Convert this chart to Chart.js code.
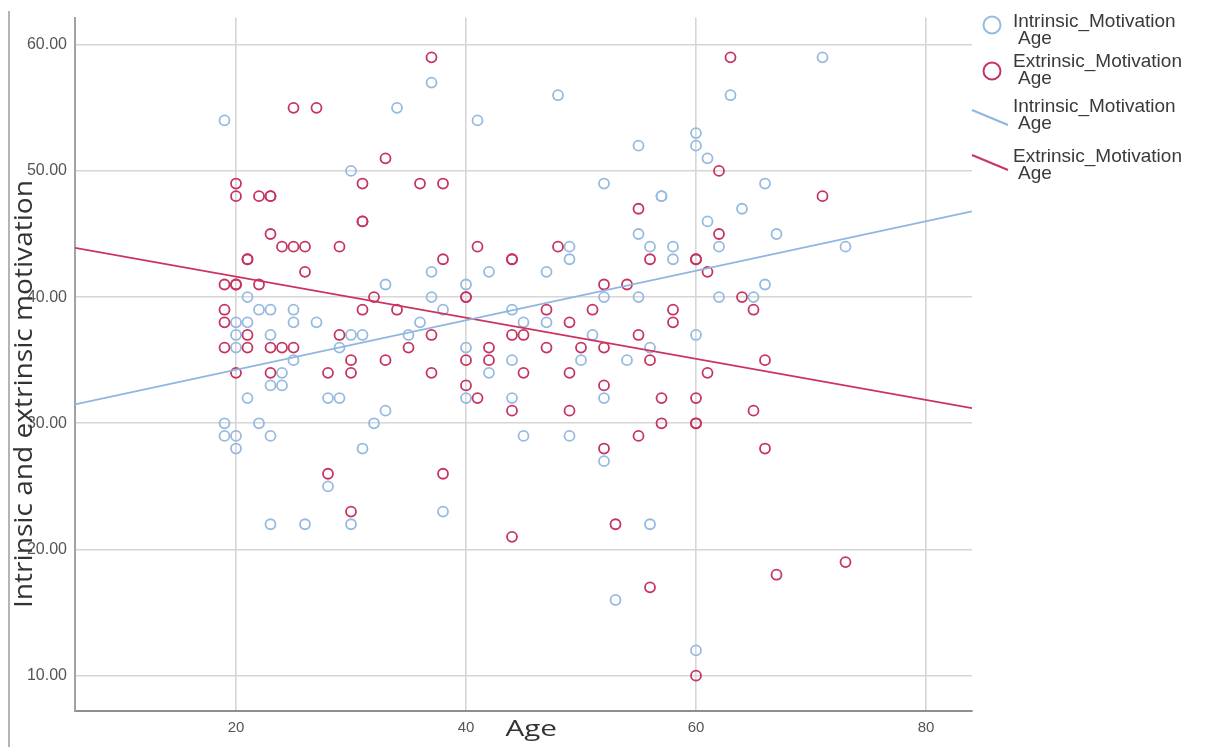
<!DOCTYPE html>
<html>
<head>
<meta charset="utf-8">
<script src="https://cdn.jsdelivr.net/npm/chart.js@4.4.0/dist/chart.umd.min.js"></script>
<style>
  body { margin: 0; background: #fff; }
  #wrap { position: relative; width: 1208px; height: 747px; overflow: hidden; }
  #chart { position: absolute; left: 0; top: 0; }
  .title { position: absolute; white-space: nowrap; font-family: "Open Sans", sans-serif; color: #333; line-height: 1; }
  .leg { position: absolute; left: 1013px; font-family: "Liberation Sans", Arial, sans-serif; font-size: 19px; line-height: 17px; color: #3a3a3a; white-space: nowrap; }
  .leg span { display: block; padding-left: 5px; }
  #marks { position: absolute; left: 0; top: 0; }
</style>
</head>
<body>
<div id="wrap">
  <canvas id="chart" width="1208" height="747"></canvas>
  <svg id="marks" width="1208" height="747"></svg>
  <div id="yTitle" class="title" style="font-size:26px">Intrinsic and extrinsic motivation</div>
  <div id="xTitle" class="title" style="font-size:21px">Age</div>
</div>
<script>
// Intrinsic motivation by age (blue circles)
const intrinsicAge = [19, 30, 37, 34, 41, 48, 55, 52, 55, 49, 63, 71, 60, 60, 61, 66, 57, 57, 64, 61,
    67, 56, 58, 62, 73, 49, 58, 21, 22, 23, 25, 20, 21, 25, 27, 20, 23, 20, 29, 25,
    24, 23, 24, 21, 28, 29, 19, 22, 19, 20, 23, 20, 37, 42, 47, 33, 40, 37, 52, 55,
    38, 44, 36, 45, 47, 30, 31, 35, 51, 40, 44, 50, 54, 42, 40, 44, 52, 33, 32, 45,
    49, 31, 52, 66, 62, 65, 60, 56, 28, 23, 26, 30, 38, 56, 53, 60];
const intrinsicScore = [54, 50, 57, 55, 54, 56, 52, 49, 45, 44, 56, 59, 53, 52, 51, 49, 48, 48, 47, 46,
    45, 44, 44, 44, 44, 43, 43, 40, 39, 39, 39, 38, 38, 38, 38, 37, 37, 36, 36, 35,
    34, 33, 33, 32, 32, 32, 30, 30, 29, 29, 29, 28, 42, 42, 42, 41, 41, 40, 40, 40,
    39, 39, 38, 38, 38, 37, 37, 37, 37, 36, 35, 35, 35, 34, 32, 32, 32, 31, 30, 29,
    29, 28, 27, 41, 40, 40, 37, 36, 25, 22, 22, 22, 23, 22, 16, 12];

// Extrinsic motivation by age (red circles)
const extrinsicAge = [25, 27, 20, 20, 22, 23, 23, 23, 24, 25, 26, 29, 37, 33, 31, 36, 38, 55, 31, 31,
    41, 48, 63, 62, 71, 62, 21, 21, 26, 19, 20, 20, 22, 19, 19, 21, 29, 19, 21, 23,
    24, 25, 20, 23, 28, 28, 38, 44, 44, 52, 54, 32, 40, 40, 31, 34, 47, 51, 49, 37,
    44, 45, 55, 35, 42, 47, 50, 52, 30, 33, 40, 42, 56, 30, 37, 45, 49, 40, 52, 41,
    44, 49, 55, 52, 38, 56, 60, 60, 61, 64, 58, 65, 58, 66, 61, 57, 60, 65, 57, 60,
    60, 66, 30, 44, 53, 73, 67, 56, 60];
const extrinsicScore = [55, 55, 49, 48, 48, 48, 48, 45, 44, 44, 44, 44, 59, 51, 49, 49, 49, 47, 46, 46,
    44, 44, 59, 50, 48, 45, 43, 43, 42, 41, 41, 41, 41, 39, 38, 37, 37, 36, 36, 36,
    36, 36, 34, 34, 34, 26, 43, 43, 43, 41, 41, 40, 40, 40, 39, 39, 39, 39, 38, 37,
    37, 37, 37, 36, 36, 36, 36, 36, 35, 35, 35, 35, 35, 34, 34, 34, 34, 33, 33, 32,
    31, 31, 29, 28, 26, 43, 43, 43, 42, 40, 39, 39, 38, 35, 34, 32, 32, 31, 30, 30,
    30, 28, 23, 21, 22, 19, 18, 17, 10];

// Fit lines, read where they meet the two ends of the x axis
const fitAge = [6, 84];
const intrinsicFit = [31.5, 46.8];
const extrinsicFit = [43.9, 31.2];

const xTicks = [20, 40, 60, 80];
const yTicks = [10, 20, 30, 40, 50, 60];
const yRange = [7.2, 62.15];

const legendLabels = ['Intrinsic_Motivation', 'Extrinsic_Motivation', 'Intrinsic_Motivation', 'Extrinsic_Motivation'];
const legendSub = 'Age';

const blue = 'rgb(150, 186, 224)';
const red = 'rgb(198, 52, 96)';
const blueLine = 'rgb(143, 182, 224)';
const redLine = 'rgb(204, 52, 95)';

function toPoints(xs, ys) {
    return xs.map((x, i) => ({ x: x, y: ys[i] }));
}

function createScatter() {
    const ctx = document.getElementById('chart').getContext('2d');
    new Chart(ctx, {
        type: 'scatter',
        data: {
            datasets: [
                {
                    label: 'Intrinsic_Motivation Age fit',
                    type: 'line',
                    data: toPoints(fitAge, intrinsicFit),
                    borderColor: blueLine,
                    borderWidth: 1.8,
                    pointRadius: 0,
                    fill: false,
                    order: 0,
                },
                {
                    label: 'Extrinsic_Motivation Age fit',
                    type: 'line',
                    data: toPoints(fitAge, extrinsicFit),
                    borderColor: redLine,
                    borderWidth: 1.8,
                    pointRadius: 0,
                    fill: false,
                    order: 0,
                },
                {
                    label: 'Extrinsic_Motivation Age',
                    data: toPoints(extrinsicAge, extrinsicScore),
                    borderColor: red,
                    backgroundColor: 'rgba(0,0,0,0)',
                    pointRadius: 5,
                    borderWidth: 1.8,
                    order: 1,
                },
                {
                    label: 'Intrinsic_Motivation Age',
                    data: toPoints(intrinsicAge, intrinsicScore),
                    borderColor: blue,
                    backgroundColor: 'rgba(0,0,0,0)',
                    pointRadius: 5,
                    borderWidth: 1.8,
                    order: 2,
                },
            ],
        },
        options: {
            responsive: false,
            animation: false,
            devicePixelRatio: 1,
            layout: { padding: { left: 0, right: 236, top: 11, bottom: 0 } },
            plugins: { legend: { display: false }, tooltip: { enabled: false } },
            scales: {
                x: {
                    type: 'linear',
                    min: fitAge[0],
                    max: fitAge[1],
                    afterBuildTicks: s => { s.ticks = xTicks.map(v => ({ value: v })); },
                    afterFit: s => { s.height = 36; },
                    grid: { color: 'rgb(214, 214, 214)', lineWidth: 1.6, drawTicks: false },
                    border: { display: true, color: '#8e8e8e', width: 2 },
                    ticks: {
                        color: '#555',
                        padding: 8,
                        font: { family: 'Liberation Sans, Arial, sans-serif', size: 15 },
                        callback: v => String(v),
                    },
                },
                y: {
                    min: yRange[0],
                    max: yRange[1],
                    afterBuildTicks: s => { s.ticks = yTicks.map(v => ({ value: v })); },
                    afterFit: s => { s.width = 75; },
                    grid: { color: 'rgb(214, 214, 214)', lineWidth: 1.6, drawTicks: false },
                    border: { display: true, color: '#a2a2a2', width: 2 },
                    ticks: {
                        color: '#555',
                        padding: 8,
                        font: { family: 'Liberation Sans, Arial, sans-serif', size: 16 },
                        callback: v => v.toFixed(2),
                    },
                },
            },
        },
    });
}

// axis titles stretched to the lengths seen in the picture
function placeTitles() {
    const yt = document.getElementById('yTitle');
    const w = yt.offsetWidth, h = yt.offsetHeight;
    yt.style.left = (21.5 - w / 2) + 'px';
    yt.style.top = (394 - h / 2) + 'px';
    yt.style.transform = 'rotate(-90deg) scaleX(' + (428 / w) + ')';

    const xt = document.getElementById('xTitle');
    const xw = xt.offsetWidth;
    xt.style.left = (530.5 - xw / 2) + 'px';
    xt.style.top = '718px';
    xt.style.transform = 'scaleX(' + (51 / xw) + ')';
}

function drawLegend() {
    const wrap = document.getElementById('wrap');
    const tops = [11.5, 51.5, 96.5, 146.5];
    legendLabels.forEach((txt, i) => {
        const d = document.createElement('div');
        d.className = 'leg';
        d.style.top = tops[i] + 'px';
        d.textContent = txt;
        const sub = document.createElement('span');
        sub.textContent = legendSub;
        d.appendChild(sub);
        wrap.appendChild(d);
    });
    const svg = document.getElementById('marks');
    svg.innerHTML =
        '<line x1="9" y1="11" x2="9" y2="747" stroke="#b4b4b4" stroke-width="2"/>' +
        '<circle cx="992" cy="25" r="8.5" fill="none" stroke="' + blue + '" stroke-width="2"/>' +
        '<circle cx="992" cy="71" r="8.5" fill="none" stroke="' + red + '" stroke-width="2"/>' +
        '<line x1="972" y1="110" x2="1008" y2="125" stroke="' + blueLine + '" stroke-width="2"/>' +
        '<line x1="972" y1="155" x2="1008" y2="170" stroke="' + redLine + '" stroke-width="2"/>';
}

createScatter();
placeTitles();
drawLegend();
</script>
</body>
</html>
